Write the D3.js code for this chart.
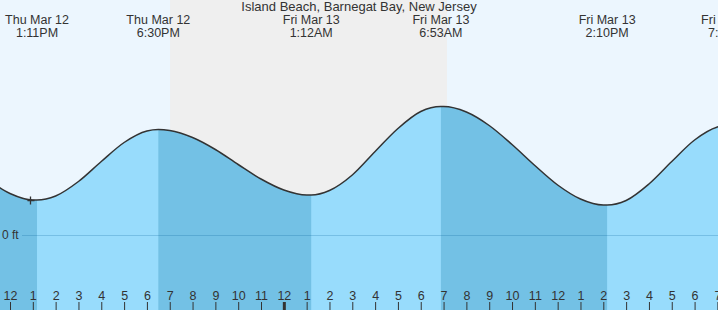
<!DOCTYPE html>
<html>
<head>
<meta charset="utf-8">
<script src="https://cdn.jsdelivr.net/npm/d3@7/dist/d3.min.js"></script>
<style>
  html, body { margin: 0; padding: 0; background: #fff; }
  svg { display: block; }
  text { font-family: 'Liberation Sans', Arial, sans-serif; fill: #333; }
</style>
</head>
<body>
<div id="tideChart"></div>
<script>
'use strict';

// Station / title
const stationName = 'Island Beach, Barnegat Bay, New Jersey';

// High / low tide events (the first one is off the left edge, used for shading)
const extremeTimes = ['2026-03-12 06:10', '2026-03-12 13:11', '2026-03-12 18:30', '2026-03-13 01:12',
                      '2026-03-13 06:53', '2026-03-13 14:10', '2026-03-13 19:32'];
const extremeFeet  = [2.56, 0.70, 2.11, 0.80, 2.57, 0.60, 2.20];
const extremeType  = ['H', 'L', 'H', 'L', 'H', 'L', 'H'];

// Hourly water level, feet
const hourlyTimes = ['2026-03-12 11:00', '2026-03-12 12:00', '2026-03-12 13:00', '2026-03-12 14:00',
                     '2026-03-12 15:00', '2026-03-12 16:00', '2026-03-12 17:00', '2026-03-12 18:00',
                     '2026-03-12 19:00', '2026-03-12 20:00', '2026-03-12 21:00', '2026-03-12 22:00',
                     '2026-03-12 23:00', '2026-03-13 00:00', '2026-03-13 01:00', '2026-03-13 02:00',
                     '2026-03-13 03:00', '2026-03-13 04:00', '2026-03-13 05:00', '2026-03-13 06:00',
                     '2026-03-13 07:00', '2026-03-13 08:00', '2026-03-13 09:00', '2026-03-13 10:00',
                     '2026-03-13 11:00', '2026-03-13 12:00', '2026-03-13 13:00', '2026-03-13 14:00',
                     '2026-03-13 15:00', '2026-03-13 16:00', '2026-03-13 17:00', '2026-03-13 18:00',
                     '2026-03-13 19:00'];
const hourlyFeet  = [1.11, 0.83, 0.70, 0.78, 1.07, 1.47, 1.85, 2.08,
                     2.09, 1.95, 1.71, 1.41, 1.12, 0.90, 0.80, 0.89,
                     1.20, 1.67, 2.13, 2.47, 2.57, 2.46, 2.19, 1.81,
                     1.39, 1.00, 0.72, 0.60, 0.69, 1.02, 1.47, 1.90,
                     2.16];

// Sunset / sunrise (night band)
const nightStart = '2026-03-12 19:01';
const nightEnd   = '2026-03-13 07:09';

// "Now" marker
const nowTime = '2026-03-12 12:53';
const nowFeet = 0.71;

// Visible hour range for the axis
const axisStart = '2026-03-12 12:00';
const axisEnd   = '2026-03-13 19:00';

const W = 718, H = 310;
const parse = d3.timeParse('%Y-%m-%d %H:%M');

const x = d3.scaleTime()
    .domain([parse(axisStart), parse(axisEnd)])
    .range([10, 717.4]);

const y = d3.scaleLinear()
    .domain([-1.5, 4.7])
    .range([H, 0]);

const events = extremeTimes.map((t, i) => ({ t: parse(t), v: extremeFeet[i], type: extremeType[i] }));
const points = hourlyTimes.map((t, i) => ({ t: parse(t), v: hourlyFeet[i] }))
    .concat(events.map(e => ({ t: e.t, v: e.v })))
    .sort((a, b) => a.t - b.t);

const svg = d3.select('#tideChart').append('svg')
    .attr('width', W)
    .attr('height', H);

// Sky + night
svg.append('rect')
    .attr('width', W).attr('height', H)
    .attr('fill', '#ecf6fe');

svg.append('rect')
    .attr('x', x(parse(nightStart)))
    .attr('width', x(parse(nightEnd)) - x(parse(nightStart)))
    .attr('height', H)
    .attr('fill', '#efefef');

// Water
const area = d3.area()
    .curve(d3.curveMonotoneX)
    .x(d => x(d.t))
    .y0(H)
    .y1(d => y(d.v));

const line = d3.line()
    .curve(d3.curveMonotoneX)
    .x(d => x(d.t))
    .y(d => y(d.v));

svg.append('clipPath').attr('id', 'waterClip')
  .append('path').attr('d', area(points));

svg.append('path')
    .attr('d', area(points))
    .attr('fill', '#98dcfc');

// Falling tide = darker band
const falling = [];
for (let i = 0; i < events.length - 1; i++) {
    if (events[i].type === 'H') falling.push([events[i].t, events[i + 1].t]);
}
svg.append('g')
    .attr('clip-path', 'url(#waterClip)')
  .selectAll('rect')
  .data(falling)
  .join('rect')
    .attr('x', d => x(d[0]))
    .attr('width', d => x(d[1]) - x(d[0]))
    .attr('height', H)
    .attr('fill', '#73c1e5');

// Zero line
svg.append('line')
    .attr('x1', 22).attr('x2', W)
    .attr('y1', y(0) + 0.5).attr('y2', y(0) + 0.5)
    .attr('stroke', 'rgba(0,90,150,0.22)')
    .attr('stroke-width', 1);

svg.append('text')
    .attr('x', 2)
    .attr('y', y(0) + 4)
    .attr('font-size', 12)
    .text('0 ft');

// Tide curve
svg.append('path')
    .attr('d', line(points))
    .attr('fill', 'none')
    .attr('stroke', '#333')
    .attr('stroke-width', 1.5);

// Now marker
const nx = Math.round(x(parse(nowTime))) + 0.5, ny = Math.round(y(nowFeet)) + 0.5;
svg.append('path')
    .attr('d', `M${nx - 3},${ny}H${nx + 4}M${nx},${ny - 4}V${ny + 4}`)
    .attr('stroke', '#333')
    .attr('stroke-width', 1.3)
    .attr('fill', 'none');

// Hour axis along the bottom
const axis = d3.axisTop(x)
    .ticks(d3.timeHour.every(1))
    .tickFormat(d3.timeFormat('%-I'))
    .tickSize(8)
    .tickPadding(2);

const gAxis = svg.append('g')
    .attr('transform', `translate(0,${H})`)
    .call(axis);
gAxis.select('.domain').remove();
gAxis.selectAll('.tick line')
    .attr('stroke', '#333')
    .attr('stroke-width', d => d.getHours() === 0 ? 3 : 1);
gAxis.selectAll('.tick text')
    .attr('font-size', 12.5)
    .attr('font-family', "'Liberation Sans', Arial, sans-serif")
    .attr('fill', '#333');

// Title
svg.append('text')
    .attr('x', W / 2)
    .attr('y', 11)
    .attr('text-anchor', 'middle')
    .attr('font-size', 13)
    .text(stationName);

// Event labels (only events inside the plotted hours)
const fmtDay = d3.timeFormat('%a %b %-d');
const fmtTime = d3.timeFormat('%-I:%M%p');
const lbl = svg.append('g').selectAll('g')
    .data(events.filter(d => d.t >= x.domain()[0]))
    .join('g')
    .attr('transform', d => `translate(${x(d.t)},0)`);

lbl.append('text')
    .attr('y', 24)
    .attr('text-anchor', 'middle')
    .attr('font-size', 12.5)
    .text(d => fmtDay(d.t));

lbl.append('text')
    .attr('y', 36.5)
    .attr('text-anchor', 'middle')
    .attr('font-size', 12.5)
    .text(d => fmtTime(d.t));
</script>
</body>
</html>
